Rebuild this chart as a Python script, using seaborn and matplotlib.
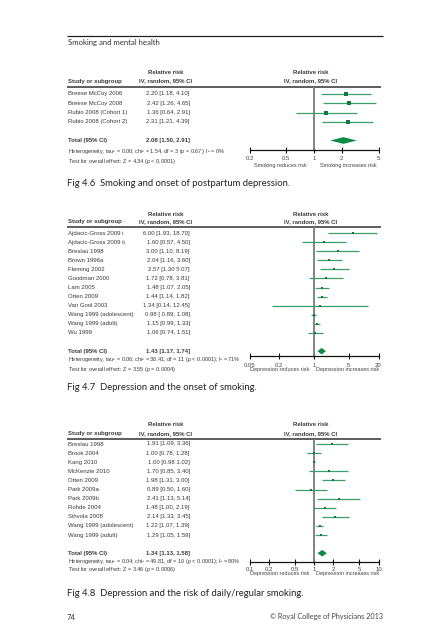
import matplotlib
matplotlib.use("Agg")
import matplotlib.pyplot as plt
import numpy as np
import pandas as pd
import seaborn as sns

# ---------------- data ----------------
page_title = "Smoking and mental health"
page_number = "74"
page_credit = "© Royal College of Physicians 2013"

p1_studies = ["Breese McCoy 2006", "Breese McCoy 2008", "Rubio 2008 (Cohort 1)", "Rubio 2008 (Cohort 2)"]
p1_rr = [2.20, 2.42, 1.36, 2.31]
p1_lo = [1.18, 1.26, 0.64, 1.21]
p1_hi = [4.10, 4.65, 2.91, 4.39]
p1_ci_text = ["2.20 [1.18, 4.10]", "2.42 [1.26, 4.65]", "1.36 [0.64, 2.91]", "2.31 [1.21, 4.39]"]
p1_total = [2.08, 1.50, 2.91]
p1_total_text = "2.08 [1.50, 2.91]"
p1_het = "Heterogeneity, tau² = 0.00; chi² = 1.54, df = 3 ($\\mathit{p}$ = 0.67); I² = 0%"
p1_test = "Test for overall effect: Z = 4.34 ($\\mathit{p}$ < 0.0001)"
p1_ticks = [0.2, 0.5, 1, 2, 5]
p1_tick_labels = ["0.2", "0.5", "1", "2", "5"]
p1_dir_labels = ["Smoking reduces risk", "Smoking increases risk"]
p1_caption = "Fig 4.6  Smoking and onset of postpartum depression."

p2_studies = ["Ajdacic-Gross 2009 i", "Ajdacic-Gross 2009 ii", "Breslau 1998", "Brown 1996a",
              "Fleming 2002", "Goodman 2000", "Lam 2005", "Otten 2009", "Van Gool 2003",
              "Wang 1999 (adolescent)", "Wang 1999 (adult)", "Wu 1999"]
p2_rr = [6.00, 1.60, 3.00, 2.04, 2.57, 1.72, 1.48, 1.44, 1.34, 0.98, 1.15, 1.06]
p2_lo = [1.93, 0.57, 1.10, 1.16, 1.30, 0.78, 1.07, 1.14, 0.14, 0.89, 0.99, 0.74]
p2_hi = [18.70, 4.50, 8.19, 3.60, 5.07, 3.81, 2.05, 1.82, 12.45, 1.08, 1.33, 1.51]
p2_ci_text = ["6.00 [1.93, 18.70]", "1.60 [0.57, 4.50]", "3.00 [1.10, 8.19]", "2.04 [1.16, 3.60]",
              "2.57 [1.30 5.07]", "1.72 [0.78, 3.81]", "1.48 [1.07, 2.05]", "1.44 [1.14, 1.82]",
              "1.34 [0.14, 12.45]", "0.98 [ 0.89, 1.08]", "1.15 [0.99, 1.33]", "1.06 [0.74, 1.51]"]
p2_total = [1.43, 1.17, 1.74]
p2_total_text = "1.43 [1.17, 1.74]"
p2_het = "Heterogeneity, tau² = 0.06; chi² = 38.41, df = 11 ($\\mathit{p}$ < 0.0001); I² = 71%"
p2_test = "Test for overall effect: Z = 3.55 ($\\mathit{p}$ = 0.0004)"
p2_ticks = [0.05, 0.2, 1, 5, 20]
p2_tick_labels = ["0.05", "0.2", "1", "5", "20"]
p2_dir_labels = ["Depression reduces risk", "Depression increases risk"]
p2_caption = "Fig 4.7  Depression and the onset of smoking."

p3_studies = ["Breslau 1998", "Brook 2004", "Kang 2010", "McKenzie 2010", "Otten 2009",
              "Park 2009a", "Park 2009b", "Rohde 2004", "Sihvola 2008",
              "Wang 1999 (adolescent)", "Wang 1999 (adult)"]
p3_rr = [1.91, 1.00, 1.00, 1.70, 1.98, 0.89, 2.41, 1.48, 2.14, 1.22, 1.29]
p3_lo = [1.09, 0.78, 0.98, 0.85, 1.31, 0.50, 1.13, 1.00, 1.33, 1.07, 1.05]
p3_hi = [3.36, 1.28, 1.02, 3.40, 3.00, 1.60, 5.14, 2.19, 3.45, 1.39, 1.59]
p3_ci_text = ["1.91 [1.09, 3.36]", "1.00 [0.78, 1.28]", "1.00 [0.98 1.02]", "1.70 [0.85, 3.40]",
              "1.98 [1.31, 3.00]", "0.89 [0.50, 1.60]", "2.41 [1.13, 5.14]", "1.48 [1.00, 2.19]",
              "2.14 [1.33, 3.45]", "1.22 [1.07, 1.39]", "1.29 [1.05, 1.59]"]
p3_total = [1.34, 1.13, 1.58]
p3_total_text = "1.34 [1.13, 1.58]"
p3_het = "Heterogeneity, tau² = 0.04; chi² = 49.81, df = 10 ($\\mathit{p}$ < 0.0001); I² = 80%"
p3_test = "Test for overall effect: Z = 3.46 ($\\mathit{p}$ = 0.0006)"
p3_ticks = [0.1, 0.2, 0.5, 1, 2, 5, 10]
p3_tick_labels = ["0.1", "0.2", "0.5", "1", "2", "5", "10"]
p3_dir_labels = ["Depression reduces risk", "Depression increases risk"]
p3_caption = "Fig 4.8  Depression and the risk of daily/regular smoking."

# ---------------- style ----------------
sns.set_theme(style="white")
NARROW = ["Liberation Sans", "DejaVu Sans"]
HUMAN = ["Lato", "DejaVu Sans"]
plt.rcParams["font.family"] = NARROW
plt.rcParams["mathtext.fontset"] = "custom"
plt.rcParams["mathtext.rm"] = "Liberation Sans"
plt.rcParams["mathtext.it"] = "Liberation Sans:italic"
plt.rcParams["mathtext.bf"] = "Liberation Sans:bold"

W, H = 422, 640
fig = plt.figure(figsize=(W / 100, H / 100), dpi=100)
fig.patch.set_facecolor("white")

bg = fig.add_axes([0, 0, 1, 1])
bg.set_xlim(0, W)
bg.set_ylim(H, 0)
bg.axis("off")

LINE_C = "#3a9e6a"
MARK_C = "#0c7a40"
DIAM_C = "#0e8a46"
TXT_C = "#3a3a3a"
FS = 4.3
FS_SMALL = 3.95

# page furniture
bg.hlines(36, 67, 383, color="#222222", lw=0.9)
bg.text(68, 43, page_title, fontsize=5.6, family=HUMAN, color="#333333", va="center", ha="left")
bg.text(67, 617, page_number, fontsize=5.6, family=HUMAN, color="#333333", va="center", ha="left")
bg.text(383, 617, page_credit, fontsize=5.2, family=HUMAN, color="#444444", va="center", ha="right")

AX_L, AX_R = 249.5, 378.5
COL1_X, COL2_R, COL2_C, RIGHT_C = 68, 190, 166, 311


def panel(studies, rr, lo, hi, ci_text, total, total_text, het, test, ticks, tick_labels,
          dir_labels, caption, y_head1, y_head2, y_rule, y0, dy, y_axis, y_het, y_test,
          y_tick, y_dir, y_cap, msize):
    n = len(studies)
    total_row = n + 1
    rows = np.arange(n)

    def py(r):
        return y0 + r * dy

    # header
    bg.text(COL2_C, y_head1, "Relative risk", fontsize=FS, weight="bold", color=TXT_C, ha="center", va="center")
    bg.text(RIGHT_C, y_head1, "Relative risk", fontsize=FS, weight="bold", color=TXT_C, ha="center", va="center")
    bg.text(COL1_X, y_head2, "Study or subgroup", fontsize=FS, weight="bold", color=TXT_C, ha="left", va="center")
    bg.text(COL2_C, y_head2, "IV, random, 95% CI", fontsize=FS, weight="bold", color=TXT_C, ha="center", va="center")
    bg.text(RIGHT_C, y_head2, "IV, random, 95% CI", fontsize=FS, weight="bold", color=TXT_C, ha="center", va="center")
    bg.hlines(y_rule, 67, 381, color="#333333", lw=1.1)

    for r, s, t in zip(rows, studies, ci_text):
        bg.text(COL1_X, py(r), s, fontsize=FS, color=TXT_C, ha="left", va="center")
        bg.text(COL2_R, py(r), t, fontsize=FS, color=TXT_C, ha="right", va="center")
    bg.text(COL1_X, py(total_row), "Total (95% CI)", fontsize=FS, weight="bold", color=TXT_C, ha="left", va="center")
    bg.text(COL2_R, py(total_row), total_text, fontsize=FS, weight="bold", color=TXT_C, ha="right", va="center")
    bg.text(COL1_X, y_het, het, fontsize=FS_SMALL, color=TXT_C, ha="left", va="center")
    bg.text(COL1_X, y_test, test, fontsize=FS_SMALL, color=TXT_C, ha="left", va="center")
    bg.text(67, y_cap, caption, fontsize=6.8, family=HUMAN, color="#222222", ha="left", va="center")

    # forest axes
    ax = fig.add_axes([AX_L / W, 1 - y_axis / H, (AX_R - AX_L) / W, (y_axis - y_rule) / H])
    ax.set_facecolor("none")
    ax.set_xscale("log")
    ax.set_xlim(ticks[0], ticks[-1])
    ax.set_ylim((y_axis - y0) / dy, (y_rule - y0) / dy)
    ax.axvline(1, color="#7a7a7a", lw=1.3, zorder=1)
    ax.hlines(rows, lo, hi, color=LINE_C, lw=0.9, zorder=2)
    df = pd.DataFrame({"rr": rr, "row": rows})
    sns.scatterplot(data=df, x="rr", y="row", marker="s", s=msize, color=MARK_C,
                    linewidth=0, ax=ax, zorder=3, legend=False)
    est, tlo, thi = total
    hh = 0.36
    ax.fill([tlo, est, thi, est], [total_row, total_row - hh, total_row, total_row + hh],
            color=DIAM_C, lw=0, zorder=3)
    for sp in ["top", "left", "right"]:
        ax.spines[sp].set_visible(False)
    ax.spines["bottom"].set_color("#111111")
    ax.spines["bottom"].set_linewidth(0.9)
    ax.set_yticks([])
    ax.set_xticks(ticks)
    ax.set_xticklabels(tick_labels)
    ax.xaxis.set_minor_locator(matplotlib.ticker.NullLocator())
    ax.tick_params(axis="x", which="major", direction="inout", length=5, width=0.8,
                   color="#111111", labelsize=FS, labelcolor="#444444",
                   pad=(y_tick - y_axis - 3.5) * 0.72, bottom=True)
    ax.set_xlabel("")
    ax.set_ylabel("")
    ax.grid(False)
    # direction labels
    bg.text(280, y_dir, dir_labels[0], fontsize=FS_SMALL, color="#444444", ha="center", va="center")
    bg.text(348, y_dir, dir_labels[1], fontsize=FS_SMALL, color="#444444", ha="center", va="center")
    return ax


panel(p1_studies, p1_rr, p1_lo, p1_hi, p1_ci_text, p1_total, p1_total_text, p1_het, p1_test,
      p1_ticks, p1_tick_labels, p1_dir_labels, p1_caption,
      y_head1=72, y_head2=81, y_rule=87, y0=94, dy=9.3, y_axis=150, y_het=151, y_test=161,
      y_tick=156, y_dir=165, y_cap=183, msize=10)

panel(p2_studies, p2_rr, p2_lo, p2_hi, p2_ci_text, p2_total, p2_total_text, p2_het, p2_test,
      p2_ticks, p2_tick_labels, p2_dir_labels, p2_caption,
      y_head1=214, y_head2=222, y_rule=227, y0=233, dy=9.09, y_axis=356, y_het=360, y_test=369,
      y_tick=363, y_dir=369, y_cap=387, msize=2)

panel(p3_studies, p3_rr, p3_lo, p3_hi, p3_ci_text, p3_total, p3_total_text, p3_het, p3_test,
      p3_ticks, p3_tick_labels, p3_dir_labels, p3_caption,
      y_head1=425, y_head2=434, y_rule=439, y0=444, dy=9.1, y_axis=562, y_het=561, y_test=570,
      y_tick=567, y_dir=574, y_cap=593, msize=2)

fig.savefig("out.png", dpi=100)
